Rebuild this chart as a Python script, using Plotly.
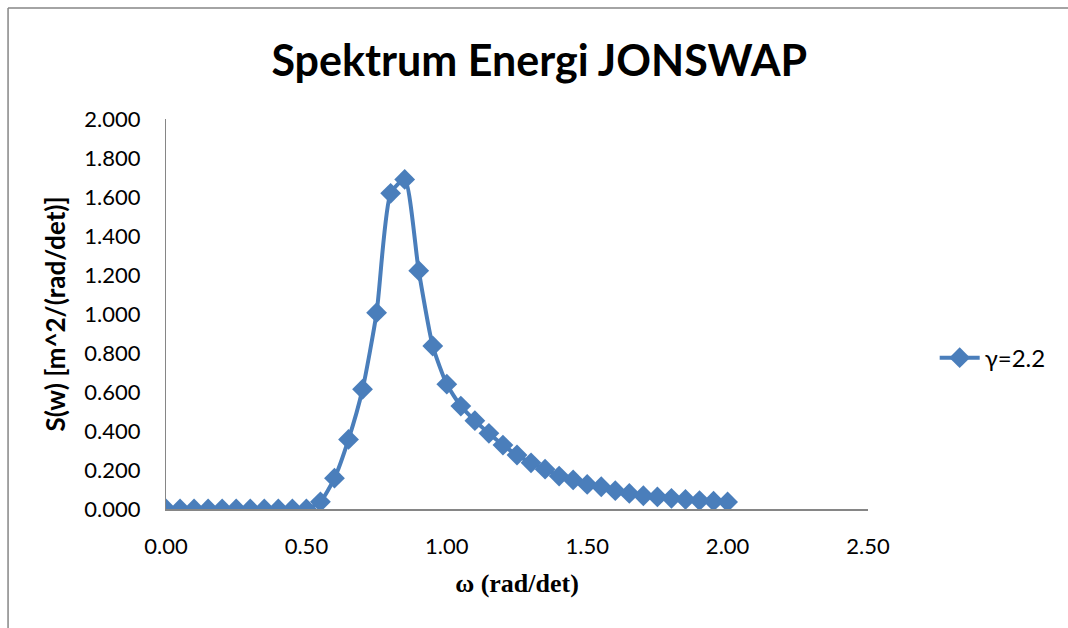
import plotly.graph_objects as go

# Angular frequency (rad/det) and JONSWAP spectral density S(w) for gamma = 2.2
omega = [0.00, 0.05, 0.10, 0.15, 0.20, 0.25, 0.30, 0.35, 0.40, 0.45, 0.50,
         0.55, 0.60, 0.65, 0.70, 0.75, 0.80, 0.85, 0.90, 0.95, 1.00,
         1.05, 1.10, 1.15, 1.20, 1.25, 1.30, 1.35, 1.40, 1.45, 1.50,
         1.55, 1.60, 1.65, 1.70, 1.75, 1.80, 1.85, 1.90, 1.95, 2.00]
s_w = [0.000, 0.000, 0.000, 0.000, 0.000, 0.000, 0.000, 0.000, 0.000, 0.000, 0.000,
       0.037, 0.158, 0.357, 0.614, 1.007, 1.619, 1.690, 1.222, 0.836, 0.640,
       0.528, 0.453, 0.388, 0.328, 0.277, 0.237, 0.204, 0.169, 0.149, 0.126,
       0.114, 0.094, 0.080, 0.068, 0.062, 0.055, 0.049, 0.043, 0.040, 0.036]
series_name = "γ=2.2"

x_ticks = [0.0, 0.5, 1.0, 1.5, 2.0, 2.5]
y_ticks = [0.0, 0.2, 0.4, 0.6, 0.8, 1.0, 1.2, 1.4, 1.6, 1.8, 2.0]

blue = "#4A7EBB"
axis_gray = "#868686"

fig = go.Figure()
fig.add_trace(go.Scatter(
    x=omega, y=s_w, name=series_name,
    mode="lines+markers",
    line=dict(color=blue, width=4, shape="spline", smoothing=0.6),
    marker=dict(symbol="diamond", size=16, color=blue),
))

fig.update_layout(
    width=1068, height=628,
    margin=dict(l=166, r=200, t=119, b=119),
    paper_bgcolor="white", plot_bgcolor="white",
    title=dict(text="<b>Spektrum Energi JONSWAP</b>", x=0.505, xanchor="center",
               y=0.903, yanchor="middle",
               font=dict(family="Lato", size=43, color="black")),
    showlegend=True,
    legend=dict(x=1.095, y=0.387, xanchor="left", yanchor="middle",
                font=dict(family="Lato", size=24, color="black"),
                bgcolor="rgba(0,0,0,0)", itemwidth=40),
    font=dict(family="Lato", size=22, color="black"),
)

fig.update_xaxes(
    range=[0, 2.5], tickvals=x_ticks, tickformat=".2f",
    showgrid=False, zeroline=False,
    showline=True, linecolor=axis_gray, linewidth=1.5,
    ticks="", ticklabelstandoff=17,
    tickfont=dict(family="Lato", size=22, color="black"),
    title=dict(text="<b>ω (rad/det)</b>", standoff=16,
               font=dict(family="Liberation Serif", size=26, color="black")),
)
fig.update_yaxes(
    range=[0, 2.0], tickvals=y_ticks, tickformat=".3f",
    showgrid=False, zeroline=False,
    showline=True, linecolor=axis_gray, linewidth=1,
    ticks="", ticklabelstandoff=20,
    tickfont=dict(family="Lato", size=22, color="black"),
    title=dict(text="<b>S(w) [m^2/(rad/det)]</b>", standoff=11,
               font=dict(family="Lato", size=26, color="black")),
)

# Outer chart-area border (left and top edges)
fig.add_shape(type="line", xref="paper", yref="paper",
              x0=-0.225, x1=1.3, y0=1.2846, y1=1.2846,
              line=dict(color=axis_gray, width=1.5))
fig.add_shape(type="line", xref="paper", yref="paper",
              x0=-0.225, x1=-0.225, y0=1.2846, y1=-0.31,
              line=dict(color=axis_gray, width=1.5))

fig.write_html("out.html")
